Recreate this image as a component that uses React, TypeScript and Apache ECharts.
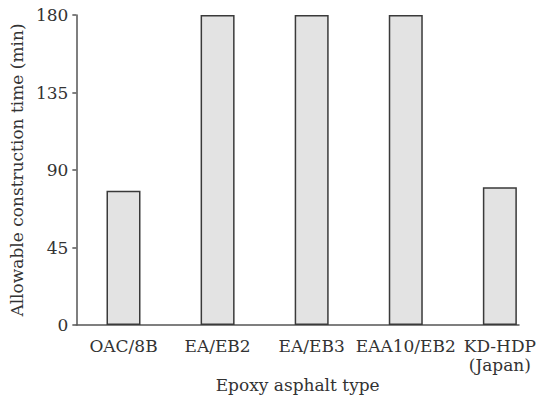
import React, { useEffect, useRef } from "react";
import * as echarts from "echarts";

const categories = ["OAC/8B", "EA/EB2", "EA/EB3", "EAA10/EB2", "KD-HDP\n(Japan)"];
const values = [78, 180, 180, 180, 80];
const yTicks = [0, 45, 90, 135, 180];

const FONT = "DejaVu Serif";
const TEXT = "#333333";
const AXIS = "#555555";

export default function App() {
  const ref = useRef<HTMLDivElement>(null);
  useEffect(() => {
    if (!ref.current) return;
    const chart = echarts.init(ref.current, undefined, { renderer: "svg" });
    const yMin = yTicks[0];
    const yMax = yTicks[yTicks.length - 1];
    chart.setOption({
      animation: false,
      backgroundColor: "#ffffff",
      grid: [
        { left: 70, right: 20, top: 15, bottom: 73, containLabel: false },
        { left: 123.5, width: 381, top: 15, bottom: 73, containLabel: false },
      ],
      xAxis: [
        {
          gridIndex: 0,
          type: "value",
          min: 0,
          max: 1,
          name: "Epoxy asphalt type",
          nameLocation: "middle",
          nameGap: 51,
          nameTextStyle: { fontFamily: FONT, fontSize: 17, color: TEXT },
          axisLine: { show: true, onZero: false, lineStyle: { color: AXIS, width: 1.5 } },
          axisTick: { show: false },
          axisLabel: { show: false },
          splitLine: { show: false },
        },
        {
          gridIndex: 1,
          type: "category",
          boundaryGap: false,
          data: categories,
          axisLine: { show: false },
          axisTick: { show: false },
          splitLine: { show: false },
          axisLabel: {
            interval: 0,
            fontFamily: FONT,
            fontSize: 17,
            color: TEXT,
            margin: 11,
            lineHeight: 19,
          },
        },
      ],
      yAxis: [
        {
          gridIndex: 0,
          type: "value",
          min: yMin,
          max: yMax,
          interval: 45,
          name: "Allowable construction time (min)",
          nameLocation: "middle",
          nameGap: 43,
          nameTextStyle: { fontFamily: FONT, fontSize: 17, color: TEXT },
          axisLine: { show: true, onZero: false, lineStyle: { color: AXIS, width: 1.5 } },
          axisTick: { show: true, length: 4, lineStyle: { color: AXIS, width: 1.5 } },
          splitLine: { show: false },
          axisLabel: { fontFamily: FONT, fontSize: 17, color: TEXT, margin: 8 },
        },
        {
          gridIndex: 1,
          type: "value",
          min: yMin,
          max: yMax,
          interval: 45,
          show: false,
          splitLine: { show: false },
        },
      ],
      series: [
        {
          type: "bar",
          xAxisIndex: 1,
          yAxisIndex: 1,
          data: values,
          barWidth: 34,
          itemStyle: { color: "#e3e3e3", borderColor: "#3a3a3a", borderWidth: 1.5 },
        },
      ],
    });
    return () => chart.dispose();
  }, []);
  return (
    <div
      ref={ref}
      style={{ position: "fixed", left: 0, top: 0, width: 539, height: 398 }}
    />
  );
}
